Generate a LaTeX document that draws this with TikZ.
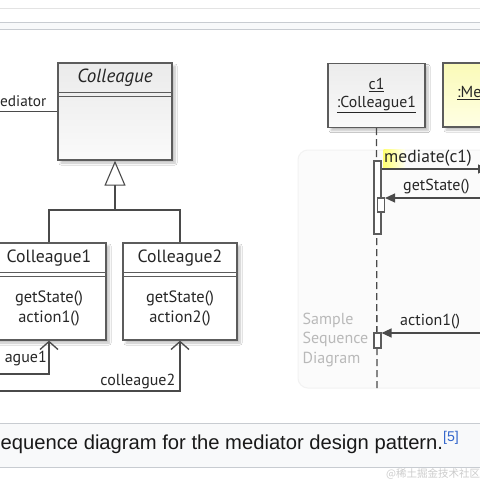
\documentclass[tikz,border=0pt]{standalone}
\usepackage{fontspec}
\setmainfont{PT Sans}
\newfontfamily\capfont{Liberation Sans}
\newfontfamily\cjkfont{Noto Sans CJK SC}
\usetikzlibrary{arrows.meta,shadows.blur,calc}
\definecolor{boxline}{HTML}{5C5C5C}
\definecolor{conline}{HTML}{4A4A4A}
\definecolor{capbg}{HTML}{F8F9FA}
\definecolor{capline}{HTML}{C8CCD1}
\definecolor{linkblue}{HTML}{3366CC}
\definecolor{medtop}{HTML}{FAFAB8}
\definecolor{medbot}{HTML}{FFFFE4}
\tikzset{
  clsbox/.style={draw=boxline, line width=1.3pt, fill=white, inner sep=0pt,
    minimum width=114pt, minimum height=97pt,
    blur shadow={shadow xshift=3pt, shadow yshift=-3pt, shadow opacity=25, shadow blur steps=6}},
  seqbox/.style={draw=boxline, line width=1.3pt, inner sep=0pt,
    minimum width=97pt, minimum height=64pt,
    blur shadow={shadow xshift=3pt, shadow yshift=-3pt, shadow opacity=25, shadow blur steps=6}},
  sepline/.style={draw=boxline, line width=1pt},
  lbl/.style={inner sep=0pt, text=black!85, font=\fontsize{16}{19}\selectfont},
  conn/.style={draw=conline, line width=1.3pt},
  lifeline/.style={draw=conline, line width=1.3pt, dash pattern=on 7pt off 4pt},
  actbar/.style={draw=boxline, line width=1.1pt, fill=white, inner sep=0pt, minimum width=7pt},
  msg/.style={draw=conline, line width=1.3pt, -{Triangle[length=10pt,width=9pt]}},
}
\begin{document}
\begin{tikzpicture}[x=1pt,y=-1pt]
\useasboundingbox (0,0) rectangle (480,480);
\clip (0,0) rectangle (480,480);
\fill[white] (0,0) rectangle (480,480);
% top band
\draw[draw=gray!22, line width=0.8pt] (0,8.3) -- (480,8.3);
\filldraw[fill=capbg, draw=capline, line width=0.8pt] (-2,22.7) rectangle (482,29.3);

% ---------- class diagram ----------
\node[clsbox, top color=gray!16, bottom color=gray!4] (col) at (115,111.5) {};
\node[lbl, font=\itshape\fontsize{19}{22}\selectfont] (colname) at (115,78) {Colleague};
\draw[sepline] (col.north west) ++(0,30) -- ++(114,0);
\draw[sepline] (col.north west) ++(0,34) -- ++(114,0);

\node[clsbox] (cl1) at (49,291.5) {};
\node[lbl, font=\fontsize{17.7}{21}\selectfont] (cl1name) at (49,258) {Colleague1};
\draw[sepline] (cl1.north west) ++(0,30) -- ++(114,0);
\draw[sepline] (cl1.north west) ++(0,34) -- ++(114,0);
\node[lbl, align=center, font=\fontsize{16.4}{20}\selectfont] (cl1ops) at (49,308) {getState()\\action1()};

\node[clsbox] (cl2) at (180,291.5) {};
\node[lbl, font=\fontsize{17.7}{21}\selectfont] (cl2name) at (180,258) {Colleague2};
\draw[sepline] (cl2.north west) ++(0,30) -- ++(114,0);
\draw[sepline] (cl2.north west) ++(0,34) -- ++(114,0);
\node[lbl, align=center, font=\fontsize{16.4}{20}\selectfont] (cl2ops) at (180,308) {getState()\\action2()};

% generalization
\coordinate (jn) at (115,210);
\draw[conn] (cl1.north) |- (jn) -| (cl2.north);
\draw[conn, -{Triangle[open, length=25pt, width=21pt, line width=1.1pt]}] (jn) -- (col.south);

% mediator association
\coordinate (medL) at (-2,111.5);
\draw[conn] (col.west) -- (medL);
\node[lbl, anchor=east, font=\fontsize{15.3}{18}\selectfont] (medlbl) at (46.5,101) {ediator};

% colleague associations
\coordinate (l1) at (-2,374);
\coordinate (l2) at (-2,391);
\draw[conn, -{Straight Barb[length=8pt, width=18pt]}] (l1) -| (cl1.south);
\draw[conn, -{Straight Barb[length=8pt, width=18pt]}] (l2) -| (cl2.south);
\node[lbl, anchor=east] (al1) at (47,358) {ague1};
\node[lbl, anchor=east] (al2) at (175.5,381) {colleague2};

% ---------- sequence diagram ----------
\filldraw[fill=gray!3, draw=gray!10, line width=1pt, rounded corners=10pt] (298,150) rectangle (560,388);
\node[anchor=west, inner sep=0pt, align=left, text=gray!55, font=\fontsize{16}{19.5}\selectfont] (smp) at (302.5,339.5) {Sample\\Sequence\\Diagram};

\node[seqbox, top color=gray!15, bottom color=gray!4, align=center, text=black!85, font=\fontsize{15.8}{18.5}\selectfont] (c1) at (376.5,95.5) {\underline{c1}\\\underline{:Colleague1}};
\node[seqbox, top color=medtop, bottom color=medbot] (med) at (491.5,95) {};
\node[lbl, anchor=west] (medname) at (457,93) {\underline{:Me}};

\coordinate (c1end) at (377,392);
\draw[lifeline] (c1.south) -- (c1end);

\node[actbar, minimum height=73pt] (a1) at (377.5,197.5) {};
\node[actbar, minimum height=14pt] (a2) at (381,205) {};
\node[actbar, minimum height=15pt] (a3) at (377.5,340.5) {};

\coordinate (m1) at (488,169);
\coordinate (m2) at (488,198);
\coordinate (m3) at (488,333);

\fill[left color=yellow!55, right color=yellow!5] (383.5,149) rectangle (405,168);
\draw[msg] (a1.east |- m1) -- (m1);
\draw[msg] (m2) -- (a2.east |- m2);
\draw[msg] (m3) -- (a3.east |- m3);
\node[lbl, anchor=west, font=\fontsize{17.5}{20}\selectfont] (mlbl) at (384,158.5) {mediate(c1)};
\node[lbl, anchor=west] (glbl) at (403,187) {getState()};
\node[lbl, anchor=west] (albl) at (400,322) {action1()};

% ---------- caption ----------
\filldraw[fill=capbg, draw=capline, line width=0.9pt] (-2,423) rectangle (482,467);
\node[anchor=base west, inner sep=0pt, text=black!90, font=\capfont\fontsize{20.2}{24}\selectfont] (cap) at (0.5,449) {equence diagram for the mediator design pattern.\textsuperscript{\color{linkblue}[5]}};
\node[anchor=west, inner sep=0pt, text=gray!40, font=\cjkfont\fontsize{10.5}{12}\selectfont] (wm) at (386,473.5) {@稀土掘金技术社区};
\end{tikzpicture}
\end{document}
